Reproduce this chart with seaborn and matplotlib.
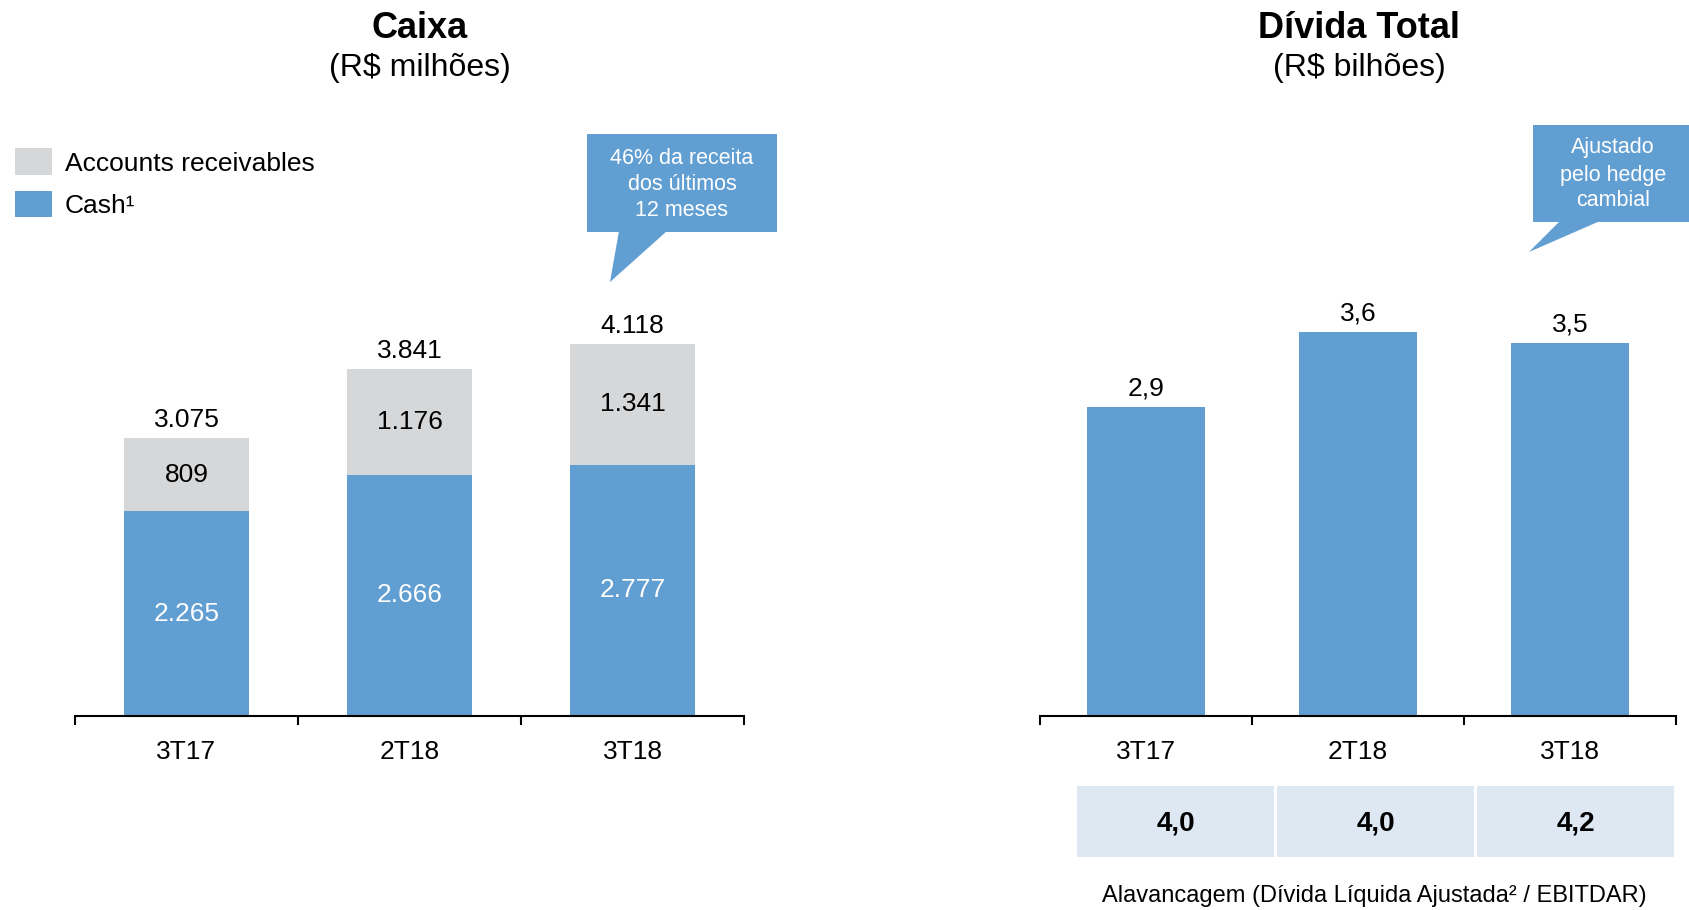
import matplotlib
matplotlib.use("Agg")
import matplotlib.pyplot as plt
import seaborn as sns
from matplotlib.patches import Polygon, Rectangle

periods = ["3T17", "2T18", "3T18"]
cash = [2265, 2666, 2777]
receivables = [809, 1176, 1341]
totals = [3075, 3841, 4118]
debt = [2.9, 3.6, 3.5]
leverage = [4.0, 4.0, 4.2]

blue = "#619ED2"
grey = "#D6D7D9"
cell = "#DEE8F3"

sns.set_theme(style="white")
plt.rcParams["font.family"] = ["Liberation Sans", "DejaVu Sans"]
plt.rcParams["text.color"] = "black"
plt.rcParams["xtick.color"] = "black"

W, H = 1690, 910
fig = plt.figure(figsize=(W / 100, H / 100), dpi=100)


def br(n):
    return f"{n:,}".replace(",", ".")


def pt(v):
    return f"{v:.1f}".replace(".", ",")


def style_axis(ax):
    ax.set_xlim(-0.5, 2.5)
    for s in ["top", "right", "left"]:
        ax.spines[s].set_visible(False)
    ax.spines["bottom"].set_color("black")
    ax.spines["bottom"].set_linewidth(1.5)
    ax.set_yticks([])
    ax.set_ylabel("")
    ax.set_xlabel("")
    ax.set_xticks([-0.5, 0.5, 1.5, 2.5])
    ax.set_xticklabels([])
    ax.tick_params(axis="x", which="major", direction="out", length=6.5,
                   width=1.5, color="black", bottom=True)
    ax.set_xticks([0, 1, 2], minor=True)
    ax.set_xticklabels(periods, minor=True)
    ax.tick_params(axis="x", which="minor", length=0, pad=17, labelsize=19,
                   labelcolor="black", bottom=True)


# left chart: Caixa
ax1 = fig.add_axes([75 / W, 194 / H, 669 / W, 452 / H])
sns.barplot(x=periods, y=totals, color=grey, saturation=1, width=0.56,
            linewidth=0, ax=ax1)
sns.barplot(x=periods, y=cash, color=blue, saturation=1, width=0.56,
            linewidth=0, ax=ax1)
ax1.set_ylim(0, 5000)
style_axis(ax1)
for i in range(3):
    ax1.annotate(br(totals[i]), (i, totals[i]), xytext=(0, 13),
                 textcoords="offset points", ha="center", va="center",
                 fontsize=19, color="black")
    ax1.text(i, cash[i] + (totals[i] - cash[i]) / 2, br(receivables[i]),
             ha="center", va="center", fontsize=19, color="black")
    ax1.text(i, cash[i] / 2, br(cash[i]), ha="center", va="center",
             fontsize=19, color="white")

# right chart: Dívida Total
ax2 = fig.add_axes([1040 / W, 194 / H, 636 / W, 452 / H])
sns.barplot(x=periods, y=debt, color=blue, saturation=1, width=0.555,
            linewidth=0, ax=ax2)
ax2.set_ylim(0, 452 / 106.7)
style_axis(ax2)
for i in range(3):
    ax2.annotate(pt(debt[i]), (i, debt[i]), xytext=(0, 13),
                 textcoords="offset points", ha="center", va="center",
                 fontsize=19, color="black")

# leverage table
ax3 = fig.add_axes([1076 / W, 53 / H, 600 / W, 71 / H])
ax3.bar(range(3), [1, 1, 1], width=0.985, color=cell, linewidth=0)
ax3.set_xlim(-0.5, 2.5)
ax3.set_ylim(0, 1)
ax3.axis("off")
for i, v in enumerate(leverage):
    ax3.text(i, 0.47, pt(v), ha="center", va="center", fontsize=20,
             fontweight="bold", color="black")

# overlay in pixel coordinates for titles, legend and callouts
ov = fig.add_axes([0, 0, 1, 1], zorder=5)
ov.set_xlim(0, W)
ov.set_ylim(H, 0)
ov.axis("off")
ov.patch.set_alpha(0)

ov.text(420, 28, "Caixa", ha="center", va="center", fontsize=26,
        fontweight="bold")
ov.text(420, 68, "(R$ milhões)", ha="center", va="center", fontsize=23)
ov.text(1359, 28, "Dívida Total", ha="center", va="center", fontsize=26,
        fontweight="bold")
ov.text(1359, 68, "(R$ bilhões)", ha="center", va="center", fontsize=23)

ov.add_patch(Rectangle((15, 148), 37, 27, color=grey, lw=0))
ov.add_patch(Rectangle((15, 191), 37, 26, color=blue, lw=0))
ov.text(65, 164, "Accounts receivables", ha="left", va="center", fontsize=19)
ov.text(65, 206, "Cash¹", ha="left", va="center", fontsize=19)

ov.add_patch(Rectangle((587, 134), 190, 98, color=blue, lw=0))
ov.add_patch(Polygon([(619, 231), (667, 231), (610, 282)], color=blue, lw=0))
for y, line in zip([159, 185, 210], ["46% da receita", "dos últimos", "12 meses"]):
    ov.text(682, y, line, ha="center", va="center", fontsize=15.5, color="white")

ov.add_patch(Rectangle((1533, 125), 160, 97, color=blue, lw=0))
ov.add_patch(Polygon([(1560, 221), (1600, 221), (1529, 252)], color=blue, lw=0))
for y, line in zip([148, 175, 201], ["Ajustado", "pelo hedge", "cambial"]):
    ov.text(1613, y, line, ha="center", va="center", fontsize=15.5, color="white")

ov.text(1374, 896, "Alavancagem (Dívida Líquida Ajustada² / EBITDAR)",
        ha="center", va="center", fontsize=17)

fig.savefig("out.png", dpi=100)
